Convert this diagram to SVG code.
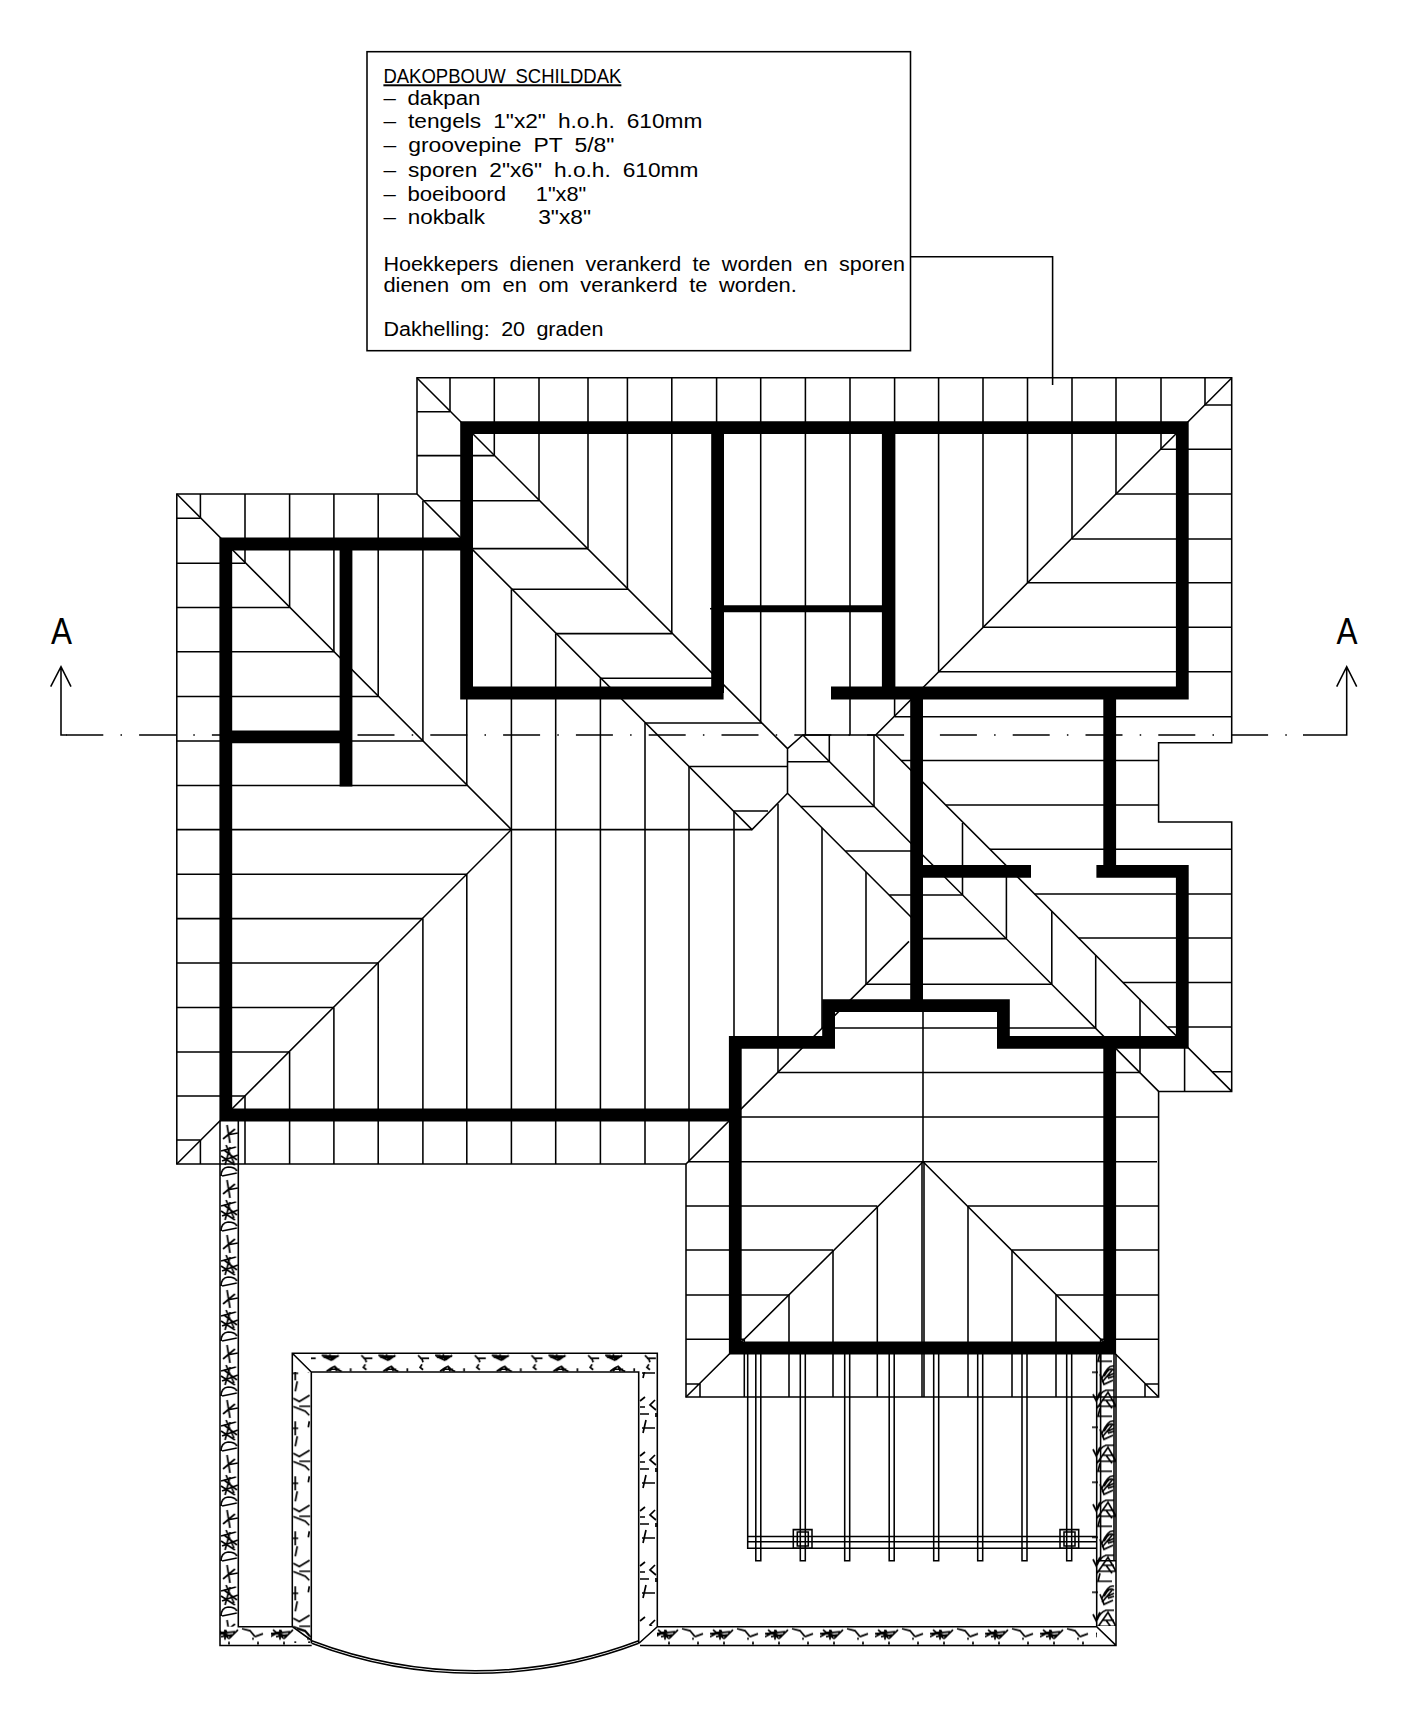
<svg xmlns="http://www.w3.org/2000/svg" width="1409" height="1726" viewBox="0 0 1409 1726">
<style>
.t{fill:none;stroke:#000;stroke-width:1.55}
.h{fill:none;stroke:#000;stroke-width:1.7}
.w{fill:none;stroke:#000;stroke-width:12.8;stroke-linejoin:miter}
.s{font-family:"Liberation Sans",Arial,sans-serif;font-size:20px;fill:#000;word-spacing:5px}
.a{font-family:"Liberation Sans",Arial,sans-serif;font-size:37px;fill:#000}
</style>
<defs>
<pattern id="pL" patternUnits="userSpaceOnUse" x="220" y="1343" width="18.3" height="55">
<path class="h" d="M3,16L15,6M7,2L10,20M7,12L18,10M1,28L16,24M6,22L14,40M2,38L18,32M1,33L15,42M10,24L5,42M4,27L17,37M1,53Q1,45 8,44Q15,44 17,48M2,53L17,50"/>
</pattern>
<pattern id="pT" patternUnits="userSpaceOnUse" x="301.7" y="1353.3" width="56.7" height="18.7">
<path class="h" d="M3,2L7,6M5,5H14M7,6L8,9M20,2L37,3M21,3L30,7M37,2L30,7M24,2L33,5M28,1L30,6M22,4H35M25,18Q30,14 33,13L37,17L40,18M28,18L31,14M33,13L35,18M27,16H38M49,15V18.3M7,11L5,14L8,16.5"/>
</pattern>
<pattern id="pGL" patternUnits="userSpaceOnUse" x="292.3" y="1363.3" width="18.7" height="55">
<path class="h" d="M0,10H6M3,3V17M5,18L3,28M17,3L16,9M17.3,32L7,38.3L1,35M7,43H18M1,43.3L13,48L17,52"/>
</pattern>
<pattern id="pGR" patternUnits="userSpaceOnUse" x="639" y="1450" width="18" height="55">
<path class="h" d="M1,6L6,2M1,19H10M1,12H6M3,33H16M7,25L4,38M16,5L11,10L17,15M17,18V22"/>
</pattern>
<pattern id="pB" patternUnits="userSpaceOnUse" x="215" y="1626.7" width="55" height="18.7">
<path class="h" d="M0,7L20,5M3,3L14,12M0,10L12,4M10,3V13M14,12L23,3M6,10L18,8M4,5L17,10M27,2L35,4L40,10M40,10L48,7M38,11V13M14,15V18M43,15V18"/>
</pattern>
<pattern id="pR" patternUnits="userSpaceOnUse" x="1092" y="1362.3" width="24" height="55">
<path class="h" d="M0,10H6M10,16Q16,2 22,4M12,14Q17,4 22,8M14,15L22,11M16,16L22,14M8,12L12,22L21,18M10,20L20,8M1,32L4,38L8,30M5,38Q8,30 14,28L22,28M5,46L16,30L24,44H5M14,38L20,46M10,38L22,38M8,46L6,54H20"/>
</pattern>
</defs>
<rect width="1409" height="1726" fill="#fff"/>

<g id="hatch">
<rect x="220" y="1123" width="18.3" height="503.7" fill="url(#pL)"/>
<rect x="292.3" y="1372" width="18.7" height="271" fill="url(#pGL)"/>
<rect x="311" y="1353.3" width="346.3" height="18.7" fill="url(#pT)"/>
<rect x="639" y="1372" width="18" height="254" fill="url(#pGR)"/>
<rect x="220" y="1626.7" width="91" height="18.7" fill="url(#pB)"/>
<rect x="657" y="1626.7" width="440" height="18.7" fill="url(#pB)"/>
<rect x="1092" y="1354" width="24" height="272" fill="url(#pR)"/>
<path class="t" d="M220,1121V1645.4H311.7M238.3,1121V1626.7H292.3V1353.3H657.3V1626.7H1096.7V1354M311.3,1643.3V1372H638.7V1643.3M640,1645.4H1116V1354M292.3,1353.3L311.3,1372M657.3,1626.7L639,1643.3M1096.7,1626.7L1116,1645.4M292.3,1626.7L311,1640"/>
<path class="t" d="M1100.6,1354V1560.7M1114,1354V1560.7M1096.7,1560.7H1116"/>
<path class="t" d="M311.7,1643.3A460.5,460.5 0 0 0 638.7,1643.3M311.7,1640.8A460.5,460.5 0 0 0 638.7,1640.8"/>
</g>

<g id="pergola">
<path class="t" d="M755.8,1342V1560.7H760.8V1342M800.3,1342V1560.7H805.3V1342M844.7,1342V1560.7H849.7V1342M889.2,1342V1560.7H894.2V1342M933.7,1342V1560.7H938.7V1342M977.7,1342V1560.7H982.7V1342M1022,1342V1560.7H1027V1342M1066.7,1342V1560.7H1071.7V1342"/>
<path class="t" d="M747.7,1342V1548.2H1096.7M747.7,1536.4H1096.7M747.7,1541.8H1096.7"/>
<path class="t" d="M793.3,1529.6H812V1548.2H793.3ZM797.3,1532H808.3V1546H797.3ZM1060,1529.6H1078.7V1548.2H1060ZM1064,1532H1075V1546H1064Z"/>
</g>

<g id="roof">
<path class="t" d="M417,494V377.8H1231.7V742.7H1158.6V822H1231.7V1091.4H1158.6V1397H686V1164H176.8V494Z"/>
<!-- hips and valleys -->
<path class="t" d="M417,494L752,829.6L787.5,793.2V748.6L802.9,735H875.7L1231.7,378M417,378L787.5,748.6M802.9,735L1158.6,1091.4M787.5,793.2L916,922M686,1164L909,941.4M875.7,735L1231.7,1091.4M176.8,494L511.4,829.6L176.8,1164M923,1161.8L686,1397M923,1161.8L1158.6,1397M686,1384H700V1397M1145,1397V1384H1158.6"/>
<!-- rafters, vertical -->
<path class="t" d="M450,378V411.7M494.3,378V455.6M539,378V500.7M588,378V548.6M627.4,378V589.3M671.8,378V633.6M716.6,378V678M760.7,378V722.9M805.4,378V735M850,378V735M894.6,378V716.7M938.6,378V671.7M983,378V627.3M1027.5,378V582.7M1072,378V539M1116,378V494M1161,378V449.3M1205,378V405"/>
<path class="t" d="M200.4,494V518.2M245,494V563.2M289.6,494V607.5M333.9,494V651.8M378.2,494V696.4M422.9,500.7V741M466.8,543V785.4M200.4,1140V1164M245,1096V1164M289.6,1052V1164M333.9,1007.5V1164M378.2,962.9V1164M422.9,918.6V1164M466.8,874.3V1164M511.4,589.3V1164M555.7,633.6V1164M600.4,678.2V1164M645,722.9V1164M689,766.4V1161M734,811V1116M778,804V1072.5M822,828V1028M866,872V984.3"/>
<path class="t" d="M829.3,735V761.8M874,735V806.4M918,778V851M962.5,822.9V895M1006.4,867V938.6M1051.8,911V984.3M1095.7,955V1028M1140,999.3V1072.5M1184.6,1044V1091.4"/>
<path class="t" d="M789,1295V1397M833,1250V1397M877.3,1206V1397M923,1000V1162M922,1162V1397M924,1162V1397M968,1206V1397M1012,1250V1397M1056,1295V1397M744.3,1339.3V1397M1100.6,1339.3V1397"/>
<!-- rafters, horizontal -->
<path class="t" d="M176.8,518.2H200.4M176.8,563.2H245M176.8,607.5H289.6M176.8,651.8H333.9M176.8,696.4H378.2M176.8,741H422.9M176.8,785.4H466.8M176.8,829.6H752M176.8,874.3H466.8M176.8,918.6H422.9M176.8,962.9H378.2M176.8,1007.5H333.9M176.8,1052H289.6M176.8,1096H245M176.8,1140H200.4"/>
<path class="t" d="M417,411.7H450M417,455.6H494.3M423.7,500.7H539M471.6,548.6H588M512,589.3H628M556,633.6H672M600.4,678.2H717M645,722.9H762M689.4,766.4H787.5M734,811H768"/>
<path class="t" d="M1205,405H1231.7M1161,449.3H1231.7M1116,494H1231.7M1072,539H1231.7M1027.5,582.7H1231.7M983,627.3H1231.7M938.6,671.7H1231.7M894.6,716.7H1231.7"/>
<path class="t" d="M901,760.4H1158.6M946,805H1158.6M990,849.3H1231.7M1034.6,893.9H1231.7M1078.6,937.9H1231.7M1123,982.5H1231.7M1167.7,1027H1231.7M1212.5,1071.8H1231.7"/>
<path class="t" d="M787.5,761.8H829.3M800.7,806.4H874M845.3,851H919M889.3,895H962.5M916,938.6H1006.4M866,984.3H1051.8M822,1028H1095.7M778,1072.5H1140M733,1117H1158.6M688,1161.8H1157M686,1206H877.3M968,1206H1158.6M686,1250H833M1012,1250H1158.6M686,1295H789M1056,1295H1158.6M686,1339.3H744M1100.6,1339.3H1158.6"/>
</g>

<g id="section">
<path class="t" d="M66.3,735H1304" stroke-dasharray="37 17.2 1.5 17.1"/>
<path class="t" d="M71,686.7L61,666.7L50.7,686.7M61,666.7V735H67M1303,735H1346.7V666.7M1336.7,686.7L1346.7,666.7L1356.7,686.7"/>
<text class="a" x="51" y="643.5" textLength="21" lengthAdjust="spacingAndGlyphs">A</text>
<text class="a" x="1336.5" y="643.5" textLength="21" lengthAdjust="spacingAndGlyphs">A</text>
</g>

<g id="walls">
<path class="w" d="M735.3,1115H225.8V544H466.6"/>
<path class="w" d="M723.6,693H466.6V427.7H1182.3V693H831"/>
<path class="w" d="M717.6,427.7V693M888.3,427.7V693M346,544V786.4M225.8,736.8H346M916.6,693V1000M1109.7,693V871.3M916.6,871.3H1031"/>
<path class="w" d="M1096.4,871.3H1182.3V1042.3H1003.4V1005.7H828.6V1042.3H735.3V1348H1109.7V1042.3"/>
<path fill="none" stroke="#000" stroke-width="7" d="M717,608.7H888"/>
<path class="t" d="M710,608.7H717"/>
</g>

<g id="legend">
<rect class="t" x="367" y="51.7" width="543.5" height="299" />
<path class="t" d="M910.5,256.7H1052.6V385"/>
<text class="s" x="383.4" y="83.3" textLength="238" lengthAdjust="spacingAndGlyphs" text-decoration="underline">DAKOPBOUW SCHILDDAK</text>
<text class="s" x="383.4" y="105" textLength="97" lengthAdjust="spacingAndGlyphs">– dakpan</text>
<text class="s" x="383.4" y="128" textLength="319" lengthAdjust="spacingAndGlyphs">– tengels 1"x2" h.o.h. 610mm</text>
<text class="s" x="383.4" y="151.7" textLength="231" lengthAdjust="spacingAndGlyphs">– groovepine PT 5/8"</text>
<text class="s" x="383.4" y="176.7" textLength="315" lengthAdjust="spacingAndGlyphs">– sporen 2"x6" h.o.h. 610mm</text>
<text class="s" x="383.4" y="201" textLength="122.6" lengthAdjust="spacingAndGlyphs">– boeiboord</text>
<text class="s" x="535.8" y="201" textLength="50.5" lengthAdjust="spacingAndGlyphs">1"x8"</text>
<text class="s" x="383.4" y="224.3" textLength="101.6" lengthAdjust="spacingAndGlyphs">– nokbalk</text>
<text class="s" x="538.2" y="224.3" textLength="52.8" lengthAdjust="spacingAndGlyphs">3"x8"</text>
<text class="s" x="383.4" y="270.7" textLength="521.5" lengthAdjust="spacingAndGlyphs">Hoekkepers dienen verankerd te worden en sporen</text>
<text class="s" x="383.4" y="292.3" textLength="413.4" lengthAdjust="spacingAndGlyphs">dienen om en om verankerd te worden.</text>
<text class="s" x="383.4" y="335.7" textLength="220" lengthAdjust="spacingAndGlyphs">Dakhelling: 20 graden</text>
</g>
</svg>
